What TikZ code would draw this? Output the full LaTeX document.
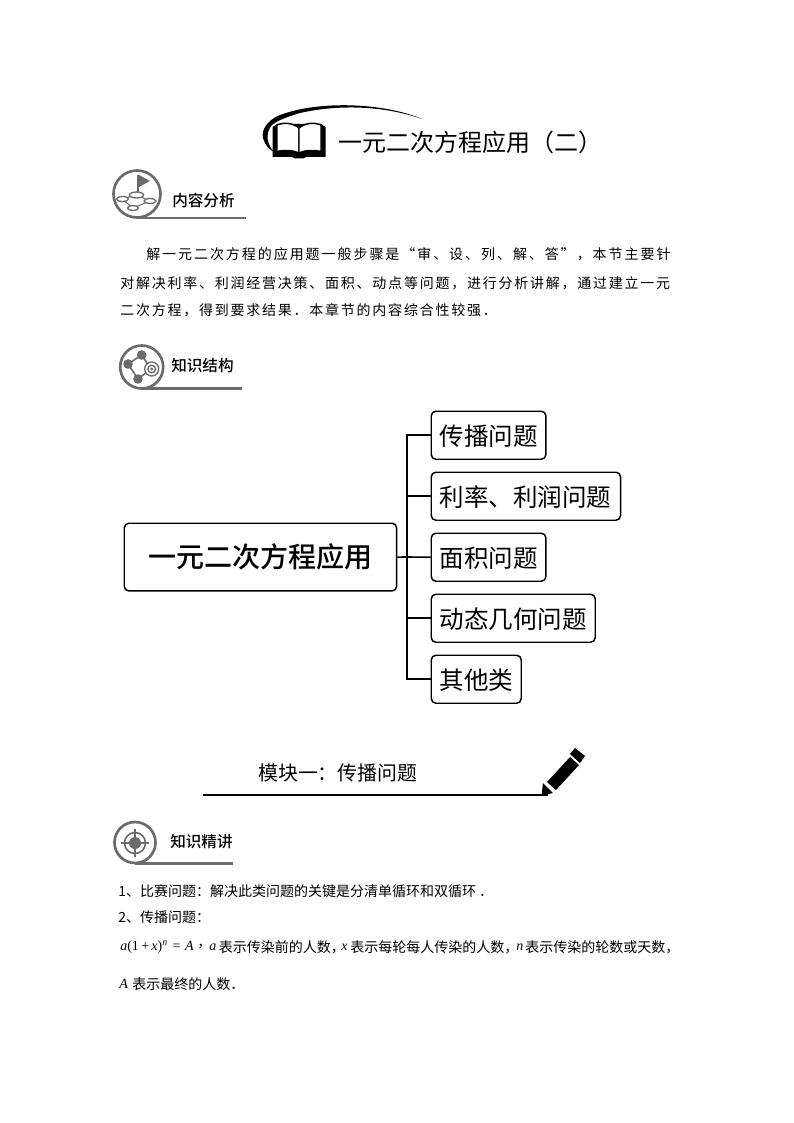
\documentclass[tikz,border=0pt]{standalone}
\usepackage{fontspec}
\setmainfont{Liberation Serif}
\newfontfamily\cjk{Noto Sans CJK SC}
\newfontfamily\cjkbold{Noto Sans CJK SC Medium}
\newfontfamily\cjksemi{Noto Sans CJK SC Medium}
\newfontfamily\cjkA[LetterSpace=13.9]{Noto Sans CJK SC}
\newfontfamily\cjkB[LetterSpace=12.6]{Noto Sans CJK SC}
\definecolor{icongray}{gray}{0.42}
\tikzset{
  px/.style={x=0.75pt,y=-0.75pt},
  box/.style={draw=black,line width=1.1pt,rounded corners=3.5pt,fill=white,inner sep=0pt,anchor=north west},
  link/.style={draw=black,line width=1.2pt},
  txt/.style={inner sep=0pt,anchor=west},
  ring/.style={draw=icongray,line width=2pt},
  under/.style={draw=icongray,line width=1.7pt},
  label/.style={txt,font=\cjksemi\fontsize{11.7pt}{13pt}\selectfont},
  body/.style={txt,font=\cjk\fontsize{10.5pt}{12pt}\selectfont},
}
\newcommand{\bx}[6]{\node[box,minimum width=#4,minimum height=#5] (#1) at (#2,#3) {};\node[txt,font=\cjk\fontsize{18.4pt}{20pt}\selectfont] at ([xshift=6.7pt,yshift=-0.7pt]#1.west) {#6};}
\begin{document}
\begin{tikzpicture}[px]
\useasboundingbox (0,0) rectangle (793,1123);
% title
\fill (422,119) .. controls (385,103) and (320,100) .. (280,115) .. controls (265,121) and (260,133) .. (264,141) .. controls (266,146) and (270,150) .. (274,152) .. controls (268,146) and (264,134) .. (272,125) .. controls (278,120) and (290,116) .. (300,113) .. controls (340,104) and (385,106) .. (422,119) -- cycle;
% book
\fill (272.5,127) -- (277,124) -- (321,124) -- (325.5,127) -- (325.5,157) -- (306,157) -- (303,158.5) -- (295,158.5) -- (292,157) -- (272.5,157) -- cycle;
\draw[fill=white,line width=1.1pt,line join=round] (277,125) .. controls (284,122) and (293,123) .. (299,128) -- (299,153) .. controls (293,150) and (284,150) .. (277,151.5) -- cycle;
\draw[fill=white,line width=1.1pt,line join=round] (321,125) .. controls (314,122) and (305,123) .. (299,128) -- (299,153) .. controls (305,150) and (314,150) .. (321,151.5) -- cycle;
\node[txt,font=\cjk\fontsize{18pt}{20pt}\selectfont] (title) at (338,142) {一元二次方程应用（二）};
% section 1
\draw[ring,fill=white] (137,194) circle (23.5);
\draw[under] (137,218) -- (246,218);
\fill[icongray] (139,175) -- (150,181) -- (139,187) -- cycle;
\draw[icongray,line width=1.2pt] (138,175) -- (138,195);
\draw[icongray,line width=0.8pt] (122,199) -- (133,208) -- (150,201) -- (136,195) -- cycle;
\draw[icongray,line width=1pt,fill=white] (136.5,195) ellipse (7 and 3);
\draw[icongray,line width=1pt,fill=white] (122.5,199) ellipse (6 and 2.5);
\draw[icongray,line width=1pt,fill=white] (150,201) ellipse (6 and 2.5);
\draw[icongray,line width=1pt,fill=white] (133,208) ellipse (5.5 and 2.5);
\node[label] (s1) at (172,201) {内容分析};
% paragraph
\node[txt,font=\cjkA\fontsize{10.5pt}{12pt}\selectfont] (p1) at (146,254) {解一元二次方程的应用题一般步骤是“审、设、列、解、答”，本节主要针};
\node[txt,font=\cjkB\fontsize{10.5pt}{12pt}\selectfont] (p2) at (120,283.5) {对解决利率、利润经营决策、面积、动点等问题，进行分析讲解，通过建立一元};
\node[txt,font=\cjkB\fontsize{10.5pt}{12pt}\selectfont] (p3) at (120,310) {二次方程，得到要求结果．本章节的内容综合性较强．};
% section 2
\draw[ring,fill=white] (141.7,367) circle (21.5);
\draw[under] (141.7,388.5) -- (242,388.5);
\draw[icongray,line width=1.2pt] (128,364) -- (141.7,355) -- (151,369) -- (138,379) -- cycle;
\fill[icongray] (128,364) circle (4.8) (141.7,355) circle (4.8) (138,379) circle (4.8);
\draw[icongray,fill=white,line width=1pt] (151.7,369) circle (7);
\draw[icongray,line width=1pt] (151.7,369) circle (3.8);
\fill[icongray] (151.7,369) circle (1.6);
\node[label] (s2) at (171,366) {知识结构};
% diagram
\node[box,minimum width=204.3pt,minimum height=50.8pt] (root) at (123.5,522.5) {};
\node[txt,font=\cjkbold\fontsize{21pt}{24pt}\selectfont] at ([xshift=18.5pt]root.west) {一元二次方程应用};
\bx{b1}{430.5}{410.5}{86pt}{36pt}{传播问题}
\bx{b2}{430.5}{471.5}{142pt}{36pt}{利率、利润问题}
\bx{b3}{430.5}{532.5}{86pt}{36pt}{面积问题}
\bx{b4}{430.5}{593.5}{123pt}{36pt}{动态几何问题}
\bx{b5}{430.5}{654.5}{67.5pt}{36pt}{其他类}
\coordinate (trunk) at (407,557);
\draw[link] (root.east) -- (trunk);
\draw[link] (b1.west) -| (trunk);
\draw[link] (b2.west) -| (trunk);
\draw[link] (b3.west) -- (trunk);
\draw[link] (b4.west) -| (trunk);
\draw[link] (b5.west) -| (trunk);
% module
\node[txt,font=\cjk\fontsize{14.9pt}{16pt}\selectfont] (m1) at (258,773) {模块一：传播问题};
\draw[line width=1.7pt] (203,795) -- (548,795);
\fill (541.5,795.8) -- (543,783) -- (553,793) -- cycle;
\fill (547,782) -- (570,757) -- (579,765) -- (556,790) -- cycle;
\fill (570,754) -- (575,748) -- (585,756) -- (580,763) -- cycle;
% section 3
\draw[ring,fill=white] (135,842.5) circle (20.5);
\draw[under] (135,863.5) -- (233,863.5);
\draw[icongray,line width=1.2pt] (135,843) circle (10.5);
\fill[icongray] (135,843) circle (6);
\draw[icongray,line width=1pt] (121,843) -- (149,843) (135,829) -- (135,857);
\node[label] (s3) at (170,842) {知识精讲};
% body
\node[body] (l1) at (118,891) {1、比赛问题：解决此类问题的关键是分清单循环和双循环 ．};
\node[body] (l2) at (118,917) {2、传播问题：};
\node[txt,font=\fontsize{10.5pt}{12pt}\selectfont] (f1) at (120,947) {\textit{a}(1\,+\,\textit{x})\textsuperscript{\textit{n}}\,\,=\,\,\textit{A}};
\node[body] (c1) at (197,947) {\makebox[6pt][l]{，}};
\node[txt,font=\fontsize{10.5pt}{12pt}\selectfont\itshape] (v1) at (209,947) {a};
\node[body] (t1) at (218.5,947) {表示传染前的人数\makebox[6pt][l]{，}};
\node[txt,font=\fontsize{10.5pt}{12pt}\selectfont\itshape] (v2) at (341,947) {x};
\node[body] (t2) at (350,947) {表示每轮每人传染的人数\makebox[6pt][l]{，}};
\node[txt,font=\fontsize{10.5pt}{12pt}\selectfont\itshape] (v3) at (516,947) {n};
\node[body] (t3) at (525,947) {表示传染的轮数或天数，};
\node[txt,font=\fontsize{10.5pt}{12pt}\selectfont\itshape] (v4) at (119,984) {A};
\node[body] (t4) at (132,984) {表示最终的人数．};
\end{tikzpicture}
\end{document}
